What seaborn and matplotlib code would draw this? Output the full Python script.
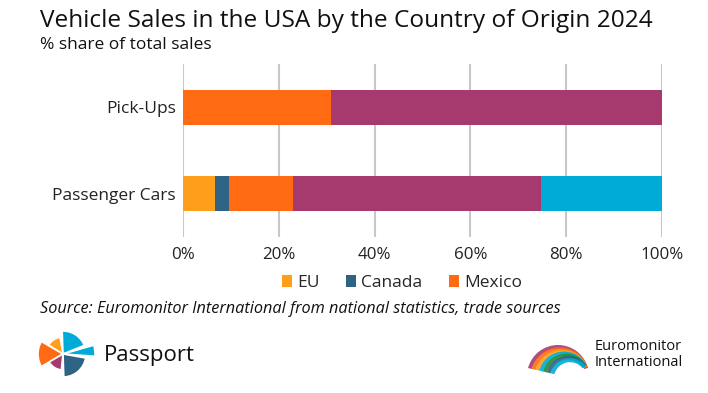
import matplotlib
matplotlib.use("Agg")
import matplotlib.pyplot as plt
import seaborn as sns
import pandas as pd
import numpy as np
from matplotlib.patches import Wedge, Patch

# ---- data ----
categories = ["Pick-Ups", "Passenger Cars"]
series_names = ["EU", "Canada", "Mexico", "USA", "Other"]
eu = [0.0, 6.7]
canada = [0.0, 2.9]
mexico = [30.9, 13.4]
usa = [69.1, 51.7]
other = [0.0, 25.3]
legend_shown = ["EU", "Canada", "Mexico"]
tick_values = [0, 20, 40, 60, 80, 100]
tick_labels = ["0%", "20%", "40%", "60%", "80%", "100%"]

colors = {"EU": "#FF9E1B", "Canada": "#2F6383", "Mexico": "#FF6A13",
          "USA": "#A63A6E", "Other": "#00ACD7"}

values = {"EU": eu, "Canada": canada, "Mexico": mexico, "USA": usa, "Other": other}
df = pd.DataFrame({"category": categories, **values})
cum = df[series_names].cumsum(axis=1)

sns.set_theme(style="white")
plt.rcParams["font.family"] = ["Open Sans", "DejaVu Sans"]

fig = plt.figure(figsize=(7.08, 3.93), dpi=100)
W, H = 708, 393
ax = fig.add_axes([183 / W, 1 - 237 / H, (662 - 183) / W, (237 - 64) / H])

for name in reversed(series_names):
    d = pd.DataFrame({"category": categories, "value": cum[name]})
    sns.barplot(data=d, x="value", y="category", color=colors[name], orient="h",
                width=0.40, saturation=1, ax=ax, zorder=3, linewidth=0)

ax.set_xlim(0, 100)
ax.set_ylim(1.5, -0.5)
ax.set_xticks(tick_values)
ax.set_xticklabels(tick_labels, fontsize=12.2, color="#222222")
ax.set_yticks(range(len(categories)))
ax.set_yticklabels(categories, fontsize=12.5, color="#222222")
ax.set_xlabel("")
ax.set_ylabel("")
ax.tick_params(axis="x", length=0, pad=7)
ax.tick_params(axis="y", length=0, pad=5)
for s in ax.spines.values():
    s.set_visible(False)
ax.grid(axis="x", color="#C8C8C8", linewidth=1.5, zorder=0)
ax.grid(axis="y", visible=False)
ax.set_axisbelow(True)

handles = [Patch(facecolor=colors[n], edgecolor="none") for n in legend_shown]
fig.legend(handles, legend_shown, loc="center", bbox_to_anchor=(402 / W, 1 - 283 / H),
           ncol=3, frameon=False, fontsize=12.5, handlelength=0.6, handleheight=0.7,
           handletextpad=0.3, columnspacing=1.5)

# texts
fig.text(40 / W, 1 - 21 / H, "Vehicle Sales in the USA by the Country of Origin 2024",
         fontsize=17.6, color="#111111", va="center", ha="left")
fig.text(40 / W, 1 - 45 / H, "% share of total sales", fontsize=12.5, color="#111111",
         va="center", ha="left")
fig.text(40 / W, 1 - 309 / H,
         "Source: Euromonitor International from national statistics, trade sources",
         fontsize=11.7, style="italic", color="#111111", va="center", ha="left")

# logos overlay
ov = fig.add_axes([0, 0, 1, 1], zorder=-1)
ov.set_xlim(0, W)
ov.set_ylim(H, 0)
ov.axis("off")
cx, cy = 63, 354
wedges = [
    (150, 210, 25, "#FF6A13"),
    (100, 148, 17, "#FF9E1B"),
    (22, 92, 23, "#00ACD7"),
    (-4, 16, 32, "#00ACD7"),
    (-88, -10, 23, "#2F6383"),
    (-150, -96, 16, "#A63A6E"),
]
for t1, t2, r, c in wedges:
    ov.add_patch(Wedge((cx, cy), r, -t2, -t1, facecolor=c, edgecolor="white", linewidth=1.2))
ov.text(104, 355, "Passport", fontsize=16, color="#111111", va="center", ha="left")

ex, ey = 558, 376
arc_cols = ["#A63A6E", "#FF6A13", "#FF9E1B", "#00ACD7", "#1E8C3A", "#2F6383", "#00ACD7"]
for i, c in enumerate(arc_cols):
    ov.add_patch(Wedge((ex + i * 2.0, ey + i * 0.4), 31 - i * 1.8, 195, 345 - i * 4,
                       width=4.0, facecolor=c, edgecolor="none", alpha=0.9))
ov.text(595, 346, "Euromonitor", fontsize=10.5, color="#111111", va="center", ha="left")
ov.text(595, 362, "International", fontsize=10.5, color="#111111", va="center", ha="left")

fig.savefig("out.png", dpi=100)
